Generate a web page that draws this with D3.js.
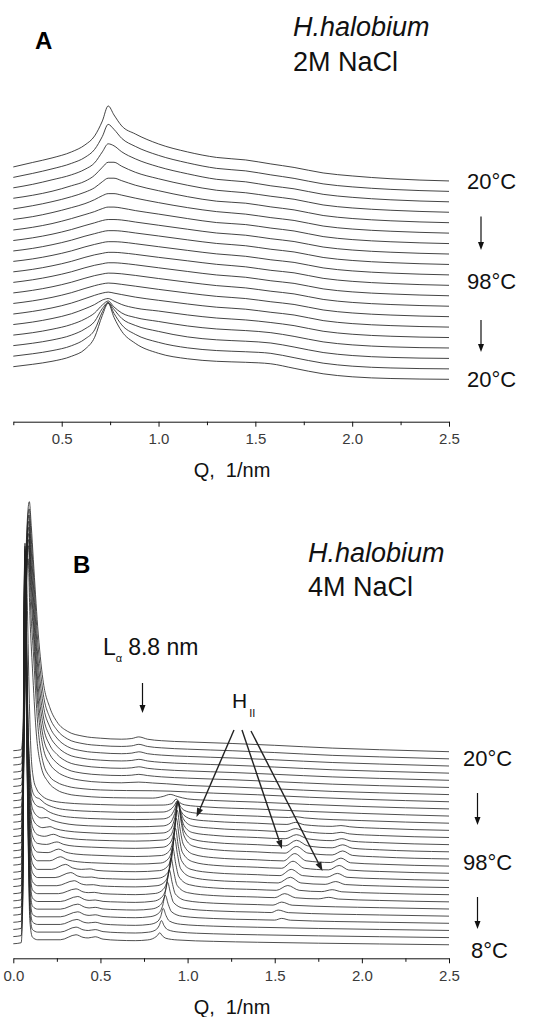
<!DOCTYPE html>
<html>
<head>
<meta charset="utf-8">
<script src="https://cdn.jsdelivr.net/npm/d3@7"></script>
<style>
  body { margin: 0; background: #fff; }
  svg { display: block; }
  text { font-family: "Liberation Sans", Arial, sans-serif; }
</style>
</head>
<body>
<svg id="chart" width="550" height="1017"></svg>
<script>
"use strict";

// ---- Panel A : 2M NaCl, 20 scans (20°C -> 98°C -> 20°C) ----
const qA = [0.25, 0.35, 0.45, 0.55, 0.62, 0.67, 0.71, 0.74, 0.77, 0.81, 0.88, 1.0, 1.15, 1.3, 1.45, 1.58, 1.7, 1.85, 2.0, 2.2, 2.5];
// intensity above each scan's own right-hand level (a.u.)
const intensA = [
  [14, 18.5, 23, 29, 36, 45, 60, 75, 66, 55, 47, 37, 29, 23.5, 21, 17, 13.5, 8, 5, 2.2, 0],
  [14, 18, 22.5, 28, 34, 42, 55, 67, 62, 53, 45, 36, 28.5, 23, 20.5, 16.5, 13, 7.5, 4.5, 2, 0],
  [14, 17.5, 22, 27, 32.5, 39, 50, 58, 56, 50, 43, 35, 28, 22.5, 20, 16, 13, 7.5, 4.5, 2, 0],
  [14, 17, 21, 26.5, 31, 37, 45, 50, 50, 46, 40, 33.5, 27, 22, 19.5, 16, 13, 7.3, 4.3, 2, 0],
  [13.8, 17, 21, 26, 30.5, 35, 41, 44.5, 44.5, 42, 37.5, 32, 26, 21.5, 19.5, 15.8, 12.8, 7.2, 4.2, 1.9, 0],
  [13.7, 16.5, 20.5, 25.5, 29.5, 33.5, 37.5, 39.5, 39.5, 38, 35, 30.5, 25.5, 21.5, 19, 15.5, 12.7, 7.1, 4.1, 1.9, 0],
  [13.6, 16.3, 20, 25, 29, 32, 35, 36.5, 36.5, 35.5, 33, 29.5, 25, 21, 19, 15.5, 12.6, 7, 4, 1.8, 0],
  [13.5, 16.2, 19.8, 24.5, 28.5, 31.2, 33.5, 34.5, 34.5, 34, 32, 28.8, 24.8, 21, 18.8, 15.3, 12.5, 7, 4, 1.8, 0],
  [13.5, 16.1, 19.7, 24.3, 28.3, 30.8, 32.8, 33.8, 33.8, 33.3, 31.5, 28.5, 24.6, 21, 18.7, 15.2, 12.5, 7, 4, 1.8, 0],
  [13.5, 16, 19.5, 24, 28, 30.5, 32.3, 33.2, 33.2, 32.8, 31.2, 28.2, 24.5, 21, 18.6, 15.1, 12.5, 7, 4, 1.8, 0],
  [13.5, 16, 19.5, 24, 28, 30.5, 32, 33, 33, 32.5, 31, 28, 24.5, 21, 18.5, 15, 12.5, 7, 4, 1.8, 0],
  [13.4, 16, 19.5, 24, 28, 30.5, 32, 33, 33, 32.5, 31, 28, 24.3, 20.8, 18.5, 15, 12.4, 6.9, 3.9, 1.8, 0],
  [13.3, 15.9, 19.4, 24, 28, 30.6, 32.2, 33.1, 33, 32.4, 30.8, 27.7, 24, 20.6, 18.3, 15, 12.3, 6.8, 3.8, 1.7, 0],
  [13.2, 15.8, 19.3, 24, 28.2, 31, 32.8, 33.6, 33.3, 32.3, 30.5, 27.3, 23.6, 20.3, 18.1, 14.9, 12.2, 6.7, 3.7, 1.6, 0],
  [13.1, 15.7, 19.2, 24, 28.5, 31.8, 34, 35, 34, 32.5, 30, 26.8, 23.1, 19.9, 17.9, 14.8, 12.1, 6.5, 3.5, 1.5, 0],
  [13, 15.5, 19, 23.8, 28.8, 33, 37.5, 39, 36.5, 33, 29.5, 26.5, 22.6, 19.5, 17.6, 15, 11.9, 6.3, 3.3, 1.3, 0],
  [12.9, 15.3, 18.7, 23.5, 29, 35, 43, 47, 41, 35, 30.5, 26.5, 22, 19, 17.4, 15.3, 11.6, 6.1, 3.1, 1.1, 0],
  [12.8, 15.2, 18.4, 23.3, 29.5, 37, 50, 56, 49, 40, 33, 27, 21.5, 18.6, 17.2, 15.4, 11.4, 5.9, 2.9, 1, 0],
  [12.7, 15.1, 18.2, 23.1, 29.8, 39, 57, 66, 55.5, 44, 34.5, 26.5, 21, 18.3, 17.1, 15.5, 11.2, 5.7, 2.7, 0.9, 0],
  [12.6, 15, 18, 23, 30, 42, 64, 76, 62, 48, 36, 26, 20.5, 18, 17, 15.5, 11, 5.5, 2.5, 0.8, 0]
];
const stepA = 10.44;
const tempLabelsA = ["20°C", "98°C", "20°C"];
const tempIndexA = [0, 9.6, 19];
const majorA = [0.5, 1.0, 1.5, 2.0, 2.5];
const minorA = [0.25, 0.75, 1.25, 1.75, 2.25];

// ---- Panel B : 4M NaCl, 28 scans (20°C -> 98°C -> 8°C), knots [Q, intensity] ----
const curvesB = [
  [[0,1],[0.045,2],[0.058,30],[0.068,170],[0.092,250],[0.103,226],[0.115,192],[0.14,125],[0.17,72],[0.21,44],[0.25,30],[0.31,20.5],[0.4,15.5],[0.5,13.5],[0.62,12.5],[0.68,13.2],[0.72,14.8],[0.77,12.5],[0.85,11],[1.0,9.8],[1.26,8.2],[1.5,6.4],[1.83,3.6],[2.1,2],[2.5,0]],
  [[0,1],[0.045,2],[0.058,28],[0.068,165],[0.091,250],[0.102,223],[0.115,187],[0.14,118],[0.17,67],[0.21,41],[0.25,29],[0.31,20],[0.4,15.2],[0.5,13.3],[0.62,12.4],[0.68,13],[0.72,14.5],[0.77,12.4],[0.85,11],[1.0,9.7],[1.26,8.1],[1.5,6.3],[1.83,3.5],[2.1,2],[2.5,0]],
  [[0,1],[0.045,2],[0.058,27],[0.068,160],[0.09,251],[0.101,221],[0.115,182],[0.14,111],[0.17,63],[0.21,39],[0.25,28],[0.31,19.5],[0.4,15],[0.5,13.2],[0.62,12.3],[0.68,12.9],[0.72,14.2],[0.77,12.3],[0.85,10.9],[1.0,9.6],[1.26,8],[1.5,6.2],[1.83,3.5],[2.1,2],[2.5,0]],
  [[0,1],[0.045,2],[0.058,26],[0.068,155],[0.09,252],[0.1,219],[0.115,177],[0.14,106],[0.17,59],[0.21,37],[0.25,27],[0.31,19],[0.4,14.8],[0.5,13],[0.62,12.2],[0.68,12.7],[0.72,13.8],[0.77,12.2],[0.85,10.8],[1.0,9.5],[1.26,7.9],[1.5,6.1],[1.83,3.4],[2.1,1.9],[2.5,0]],
  [[0,1],[0.045,2],[0.058,25],[0.067,150],[0.089,253],[0.1,216],[0.115,172],[0.14,100],[0.17,56],[0.21,35],[0.25,26],[0.31,18.5],[0.4,14.5],[0.5,12.8],[0.62,12],[0.68,12.5],[0.72,13.5],[0.77,12],[0.85,10.7],[1.0,9.4],[1.26,7.8],[1.5,6],[1.83,3.4],[2.1,1.9],[2.5,0]],
  [[0,1],[0.045,2],[0.058,25],[0.067,148],[0.089,254],[0.1,213],[0.115,167],[0.14,95],[0.17,52],[0.21,33],[0.25,24.5],[0.31,18],[0.4,14.2],[0.5,12.6],[0.62,11.9],[0.68,12.3],[0.72,13.1],[0.77,11.9],[0.85,10.6],[1.0,9.3],[1.26,7.7],[1.5,5.9],[1.83,3.3],[2.1,1.8],[2.5,0]],
  [[0,1],[0.045,2],[0.058,24],[0.067,145],[0.088,255],[0.099,209],[0.115,162],[0.14,90],[0.17,48],[0.21,30.5],[0.25,23],[0.31,17.5],[0.4,14],[0.5,12.4],[0.62,11.8],[0.72,12.5],[0.8,11.6],[0.88,10.8],[1.0,9.2],[1.26,7.6],[1.5,5.8],[1.83,3.2],[2.1,1.8],[2.5,0]],
  [[0,1],[0.045,2],[0.058,24],[0.067,142],[0.087,256],[0.098,200],[0.115,150],[0.14,78],[0.17,40],[0.21,25],[0.25,19.5],[0.31,15.5],[0.4,13],[0.5,11.8],[0.65,11.2],[0.8,11],[0.9,10.6],[1.0,9.8],[1.15,8.6],[1.4,7],[1.7,4.5],[2.0,2.5],[2.5,0]],
  [[0,1],[0.045,2],[0.057,30],[0.066,150],[0.085,250],[0.096,190],[0.11,140],[0.13,80],[0.16,42],[0.2,27],[0.25,19],[0.31,15],[0.4,12.8],[0.5,11.6],[0.65,11],[0.8,10.8],[0.86,12.5],[0.9,14.5],[0.94,12.5],[1.0,10],[1.15,8.4],[1.4,6.8],[1.7,4.4],[2.0,2.4],[2.5,0]],
  [[0,1],[0.045,2],[0.056,40],[0.064,190],[0.072,265],[0.08,215],[0.09,130],[0.1,70],[0.115,38],[0.134,27],[0.16,21],[0.2,16.5],[0.3,13.2],[0.5,11.5],[0.7,10.8],[0.86,11],[0.91,12.5],[0.935,17],[0.955,13.5],[0.99,11],[1.1,9.2],[1.4,7],[1.7,4.6],[2.0,2.6],[2.5,0]],
  [[0,1],[0.045,2],[0.055,40],[0.062,224],[0.067,280],[0.074,210],[0.083,112],[0.095,55],[0.11,32],[0.13,26],[0.15,24.5],[0.18,20],[0.23,16],[0.3,13.5],[0.5,11.5],[0.7,10.8],[0.86,11.2],[0.9,13.5],[0.925,18],[0.942,22.5],[0.958,17],[0.98,13],[1.03,10.5],[1.15,8.8],[1.4,7],[1.58,5.7],[1.62,6.6],[1.67,5.3],[2.0,2.6],[2.5,0]],
  [[0,1],[0.045,2],[0.055,42],[0.062,227],[0.067,284],[0.074,213],[0.083,114],[0.095,55],[0.11,31],[0.14,24],[0.17,22.5],[0.2,19],[0.26,15],[0.35,12.8],[0.5,11.5],[0.7,10.8],[0.86,11.5],[0.9,14],[0.925,21],[0.943,29],[0.958,21],[0.98,15],[1.03,11],[1.15,9],[1.4,7.1],[1.57,5.9],[1.62,8],[1.67,5.6],[1.83,4],[1.88,4.8],[1.93,3.6],[2.1,2],[2.5,0]],
  [[0,1],[0.045,2],[0.055,44],[0.062,230],[0.067,288],[0.074,216],[0.083,115],[0.095,54],[0.11,29],[0.14,21],[0.16,19.5],[0.19,20],[0.22,17.5],[0.28,14.5],[0.36,12.5],[0.5,11.3],[0.7,10.7],[0.86,11.6],[0.9,14.5],[0.926,24],[0.944,36],[0.96,26],[0.98,17.5],[1.03,11.5],[1.15,9.2],[1.4,7.1],[1.56,5.9],[1.62,8.9],[1.68,5.8],[1.83,4],[1.88,5.2],[1.93,3.6],[2.1,2],[2.5,0]],
  [[0,1],[0.045,2],[0.055,45],[0.062,233],[0.067,291],[0.074,218],[0.083,116],[0.095,52],[0.11,27],[0.14,19],[0.17,17],[0.21,18],[0.24,16],[0.3,13.8],[0.4,12.2],[0.5,11.3],[0.7,10.7],[0.86,11.7],[0.9,15],[0.927,27],[0.945,43],[0.961,30],[0.98,19],[1.03,12],[1.15,9.3],[1.4,7.1],[1.56,5.9],[1.625,10],[1.69,5.8],[1.83,4],[1.885,6],[1.94,3.5],[2.1,2],[2.5,0]],
  [[0,1],[0.045,2],[0.055,46],[0.062,235],[0.067,294],[0.074,220],[0.083,118],[0.095,50],[0.11,25],[0.14,17],[0.18,15.5],[0.23,17.5],[0.27,15],[0.33,13.2],[0.42,12],[0.55,11.2],[0.7,10.7],[0.86,11.8],[0.9,15.5],[0.928,30],[0.945,50],[0.962,34],[0.98,21],[1.03,12.5],[1.15,9.3],[1.4,7.1],[1.56,5.9],[1.625,11.5],[1.69,5.9],[1.83,4],[1.89,7],[1.945,3.6],[2.1,2],[2.5,0]],
  [[0,1],[0.045,2],[0.055,47],[0.062,238],[0.067,297],[0.074,222],[0.083,119],[0.095,48],[0.11,23],[0.14,15.5],[0.19,14.5],[0.25,17],[0.29,14.5],[0.35,12.8],[0.45,11.8],[0.55,11.1],[0.7,10.6],[0.86,11.8],[0.9,16],[0.928,33],[0.945,57],[0.962,38],[0.98,23],[1.03,13],[1.15,9.3],[1.4,7],[1.56,5.8],[1.625,12.5],[1.69,5.9],[1.83,4],[1.89,8],[1.945,3.6],[2.1,2],[2.5,0]],
  [[0,1],[0.045,2],[0.055,47],[0.062,240],[0.067,300],[0.074,225],[0.083,120],[0.095,46],[0.11,21],[0.14,14],[0.2,13.5],[0.26,17],[0.3,14],[0.36,12],[0.45,11],[0.55,10.3],[0.7,9.6],[0.85,10.6],[0.895,15],[0.923,32],[0.94,56],[0.957,37],[0.975,22],[1.03,12],[1.15,8.4],[1.4,6.3],[1.55,5.2],[1.615,12.5],[1.68,5.3],[1.82,3.6],[1.88,8],[1.935,3.3],[2.1,1.9],[2.5,0]],
  [[0,1],[0.045,2],[0.055,47],[0.062,242],[0.067,303],[0.074,227],[0.083,121],[0.095,44],[0.11,19],[0.14,12.5],[0.21,12.5],[0.27,16.5],[0.31,13.5],[0.37,11.5],[0.45,10.5],[0.55,9.8],[0.7,9.2],[0.845,10.2],[0.89,14.5],[0.918,31],[0.935,55],[0.952,36],[0.97,21],[1.03,11.5],[1.15,8],[1.4,6],[1.54,5],[1.605,12],[1.67,5],[1.81,3.4],[1.87,7.8],[1.925,3.2],[2.1,1.8],[2.5,0]],
  [[0,1],[0.045,2],[0.055,48],[0.062,245],[0.067,306],[0.074,230],[0.083,122],[0.095,42],[0.11,17],[0.14,11],[0.22,11],[0.3,16],[0.34,12.5],[0.39,11],[0.44,11.5],[0.48,10],[0.56,9.2],[0.7,8.7],[0.84,9.8],[0.885,14],[0.913,29],[0.93,52],[0.947,34],[0.965,20],[1.02,11],[1.15,7.6],[1.4,5.7],[1.53,4.8],[1.595,11],[1.66,4.8],[1.8,3.3],[1.86,7],[1.915,3.1],[2.1,1.7],[2.5,0]],
  [[0,1],[0.045,2],[0.055,48],[0.062,247],[0.067,309],[0.074,232],[0.083,123],[0.095,40],[0.11,15],[0.14,10],[0.24,10],[0.33,15],[0.37,11.5],[0.41,10.3],[0.45,10.5],[0.49,9.3],[0.57,8.7],[0.7,8.2],[0.835,9.4],[0.88,13.5],[0.908,28],[0.925,50],[0.942,33],[0.96,19],[1.02,10.5],[1.15,7.2],[1.4,5.4],[1.52,4.6],[1.59,10.3],[1.65,4.6],[1.79,3.2],[1.85,6],[1.905,3],[2.1,1.6],[2.5,0]],
  [[0,1],[0.045,2],[0.055,48],[0.062,250],[0.067,312],[0.074,234],[0.083,125],[0.095,38],[0.11,13],[0.14,9],[0.25,9],[0.35,14],[0.39,10.8],[0.42,9.8],[0.46,10],[0.5,8.8],[0.58,8.2],[0.7,7.8],[0.825,9],[0.87,13],[0.898,27],[0.915,47],[0.932,31],[0.95,18],[1.01,10],[1.15,6.8],[1.4,5.1],[1.51,4.4],[1.575,9.2],[1.64,4.4],[1.77,3.1],[1.83,5],[1.885,2.9],[2.1,1.5],[2.5,0]],
  [[0,1],[0.045,2],[0.055,48],[0.062,251],[0.067,314],[0.074,236],[0.083,126],[0.095,36],[0.11,12],[0.14,8.2],[0.26,8.2],[0.36,13],[0.4,10],[0.43,9.2],[0.465,9.5],[0.51,8.2],[0.6,7.6],[0.7,7.2],[0.815,8.4],[0.86,12.5],[0.888,25],[0.905,44],[0.922,29],[0.94,16.5],[1.0,9.2],[1.15,6.3],[1.4,4.8],[1.5,4.2],[1.557,8.2],[1.62,4.1],[1.75,3],[1.81,4.5],[1.865,2.8],[2.1,1.4],[2.5,0]],
  [[0,1],[0.045,2],[0.055,48],[0.062,253],[0.067,316],[0.074,237],[0.083,126],[0.095,34],[0.11,11],[0.14,7.5],[0.27,7.5],[0.37,12.5],[0.41,9.4],[0.435,8.6],[0.47,9],[0.515,7.6],[0.6,7],[0.7,6.6],[0.805,7.8],[0.85,11.5],[0.878,22],[0.895,39],[0.912,26],[0.93,15],[0.99,8.5],[1.15,5.8],[1.4,4.4],[1.49,3.9],[1.54,6.9],[1.6,3.8],[2.1,1.3],[2.5,0]],
  [[0,1],[0.045,2],[0.055,48],[0.062,254],[0.067,318],[0.074,238],[0.083,127],[0.095,32],[0.11,10],[0.14,7],[0.27,7],[0.37,12],[0.41,9],[0.435,8.2],[0.47,8.8],[0.515,7.2],[0.6,6.5],[0.7,6.1],[0.795,7.2],[0.84,10.5],[0.868,20],[0.885,34],[0.902,23],[0.92,13.5],[0.98,7.8],[1.15,5.3],[1.4,4],[1.48,3.6],[1.52,6.1],[1.58,3.5],[2.1,1.2],[2.5,0]],
  [[0,1],[0.045,2],[0.055,48],[0.062,256],[0.067,320],[0.074,240],[0.083,128],[0.095,30],[0.11,9],[0.14,6.5],[0.27,6.5],[0.37,11.5],[0.41,8.6],[0.435,7.9],[0.47,8.5],[0.515,6.8],[0.6,6],[0.7,5.6],[0.785,6.6],[0.83,9.5],[0.856,17],[0.872,28],[0.889,19],[0.908,11.5],[0.97,7],[1.15,4.8],[1.4,3.6],[1.5,3.2],[1.54,4.9],[1.59,3.1],[2.1,1.1],[2.5,0]],
  [[0,1],[0.045,2],[0.055,48],[0.062,257],[0.067,322],[0.074,241],[0.083,129],[0.095,28],[0.11,8.5],[0.14,6],[0.27,6],[0.365,11],[0.405,8.2],[0.43,7.5],[0.47,8.2],[0.515,6.4],[0.6,5.5],[0.7,5.1],[0.78,6],[0.825,8.6],[0.846,14],[0.86,22],[0.876,15],[0.895,9.5],[0.96,6.2],[1.15,4.3],[1.4,3.2],[2.1,1],[2.5,0]],
  [[0,1],[0.045,2],[0.055,48],[0.062,259],[0.067,324],[0.074,243],[0.083,130],[0.095,26],[0.11,8],[0.14,5.5],[0.27,5.5],[0.36,10.5],[0.4,7.8],[0.43,7.1],[0.47,8],[0.515,6],[0.6,5],[0.7,4.6],[0.775,5.4],[0.818,7.8],[0.837,12],[0.85,17],[0.865,12],[0.885,8],[0.95,5.5],[1.15,3.8],[1.4,2.8],[2.1,0.9],[2.5,0]],
  [[0,1],[0.045,2],[0.055,48],[0.062,260],[0.067,326],[0.074,244],[0.083,130],[0.095,24],[0.11,7.5],[0.14,5],[0.27,5],[0.36,10],[0.4,7.4],[0.43,6.8],[0.47,8],[0.515,5.6],[0.6,4.5],[0.7,4.1],[0.77,4.8],[0.81,7],[0.828,9.5],[0.84,12],[0.855,9],[0.875,6.5],[0.94,4.8],[1.15,3.4],[1.4,2.5],[2.1,0.8],[2.5,0]]
];
const stepB = 7.15;
const tempLabelsB = ["20°C", "98°C", "8°C"];
const tempIndexB = [0.9, 15.5, 27.7];
const majorB = [0.0, 0.5, 1.0, 1.5, 2.0, 2.5];
const minorB = [0.25, 0.75, 1.25, 1.75, 2.25];

const svg = d3.select("#chart");

function drawAxis(x, yPos, major, minor) {
  const g = svg.append("g").attr("transform", `translate(0,${yPos})`);
  g.call(d3.axisBottom(x).tickValues(major).tickFormat(d3.format(".1f"))
    .tickSize(5).tickSizeOuter(0).tickPadding(7));
  const gm = svg.append("g").attr("transform", `translate(0,${yPos})`);
  gm.call(d3.axisBottom(x).tickValues(minor).tickFormat("").tickSize(3.5));
  gm.select(".domain").remove();
  svg.selectAll(".tick line").attr("stroke", "#111");
  g.select(".domain").attr("stroke", "#111").attr("stroke-width", 1);
  g.selectAll(".tick text")
    .attr("font-size", 15)
    .attr("fill", "#3a3a3a")
    .attr("font-family", '"Liberation Sans", Arial, sans-serif');
}

function arrowDown(x, y1, y2) {
  svg.append("line").attr("x1", x).attr("x2", x).attr("y1", y1).attr("y2", y2 - 6)
    .attr("stroke", "#111").attr("stroke-width", 1.2);
  svg.append("path")
    .attr("d", `M${x - 3},${y2 - 8} L${x + 3},${y2 - 8} L${x},${y2} Z`)
    .attr("fill", "#111");
}

function arrowTo(x1, y1, x2, y2) {
  const a = Math.atan2(y2 - y1, x2 - x1);
  const len = 9, w = 3.2;
  const bx = x2 - len * Math.cos(a), by = y2 - len * Math.sin(a);
  svg.append("line").attr("x1", x1).attr("y1", y1).attr("x2", bx).attr("y2", by)
    .attr("stroke", "#222").attr("stroke-width", 1.4);
  svg.append("path")
    .attr("d", `M${x2},${y2} L${bx - w * Math.sin(a)},${by + w * Math.cos(a)} L${bx + w * Math.sin(a)},${by - w * Math.cos(a)} Z`)
    .attr("fill", "#222");
}

// ---------------- Panel A ----------------
const xA = d3.scaleLinear().domain([0.25, 2.5]).range([13.3, 449]);
const yA = d3.scaleLinear().domain([0, 290]).range([379.3, 89.3]);
const nA = intensA.length;

const lineA = d3.line()
  .x(d => xA(d[0]))
  .y(d => yA(d[1]))
  .curve(d3.curveMonotoneX);

intensA.forEach((row, k) => {
  const off = (nA - 1 - k) * stepA;
  svg.append("path")
    .datum(qA.map((q, j) => [q, row[j] + off]))
    .attr("fill", "none")
    .attr("stroke", "#222")
    .attr("stroke-width", 0.85)
    .attr("d", lineA);
});

drawAxis(xA, 421.7, majorA, minorA);

svg.append("text").attr("x", 35).attr("y", 48.5)
  .attr("font-size", 24).attr("font-weight", "bold").text("A");
svg.append("text").attr("x", 293).attr("y", 36)
  .attr("font-size", 27).attr("font-style", "italic").attr("fill", "#111").text("H.halobium");
svg.append("text").attr("x", 293).attr("y", 71)
  .attr("font-size", 27).attr("fill", "#111").text("2M NaCl");

tempLabelsA.forEach((t, i) => {
  svg.append("text")
    .attr("x", 467)
    .attr("y", yA((nA - 1 - tempIndexA[i]) * stepA))
    .attr("dy", "0.36em")
    .attr("font-size", 22).attr("fill", "#111")
    .text(t);
});
arrowDown(481, 216.5, 250);
arrowDown(481, 320, 352);

svg.append("text").attr("x", 232).attr("y", 477)
  .attr("text-anchor", "middle").attr("font-size", 20).attr("fill", "#111")
  .attr("xml:space", "preserve").text("Q,  1/nm");

// ---------------- Panel B ----------------
const xB = d3.scaleLinear().domain([0, 2.5]).range([13.3, 449]);
const yB = d3.scaleLinear().domain([0, 460]).range([944.75, 484.75]);
const nB = curvesB.length;

const lineB = d3.line()
  .x(d => xB(d[0]))
  .y(d => yB(d[1]))
  .curve(d3.curveMonotoneX);

curvesB.forEach((pts, k) => {
  const off = (nB - 1 - k) * stepB;
  svg.append("path")
    .datum(pts.map(p => [p[0], p[1] + off]))
    .attr("fill", "none")
    .attr("stroke", "#222")
    .attr("stroke-width", 0.8)
    .attr("d", lineB);
});

drawAxis(xB, 958.3, majorB, minorB);

svg.append("text").attr("x", 73).attr("y", 573)
  .attr("font-size", 24).attr("font-weight", "bold").text("B");
svg.append("text").attr("x", 308).attr("y", 562)
  .attr("font-size", 27).attr("font-style", "italic").attr("fill", "#111").text("H.halobium");
svg.append("text").attr("x", 308).attr("y", 596)
  .attr("font-size", 27).attr("fill", "#111").text("4M NaCl");

// L alpha label and arrow
const la = svg.append("text").attr("x", 103).attr("y", 655).attr("font-size", 23).attr("fill", "#111");
la.append("tspan").text("L");
la.append("tspan").attr("font-size", 11).attr("dy", 7).text("α");
la.append("tspan").attr("font-size", 23).attr("dy", -7).attr("dx", 6).text("8.8 nm");
arrowDown(142.5, 683, 713);

// H_II label and arrows
const hl = svg.append("text").attr("x", 232).attr("y", 708).attr("font-size", 21).attr("fill", "#111");
hl.append("tspan").text("H");
hl.append("tspan").attr("font-size", 11).attr("dy", 9).attr("dx", 2).text("II");
arrowTo(234, 730, 196.5, 817);
arrowTo(242, 730, 282, 849);
arrowTo(251, 731, 322.5, 871);

tempLabelsB.forEach((t, i) => {
  svg.append("text")
    .attr("x", t === "8°C" ? 471 : 463)
    .attr("y", yB((nB - 1 - tempIndexB[i]) * stepB))
    .attr("dy", "0.36em")
    .attr("font-size", 22).attr("fill", "#111")
    .text(t);
});
arrowDown(477.5, 793, 825);
arrowDown(477.5, 897, 929);

svg.append("text").attr("x", 232).attr("y", 1014)
  .attr("text-anchor", "middle").attr("font-size", 20).attr("fill", "#111")
  .attr("xml:space", "preserve").text("Q,  1/nm");
</script>
</body>
</html>
